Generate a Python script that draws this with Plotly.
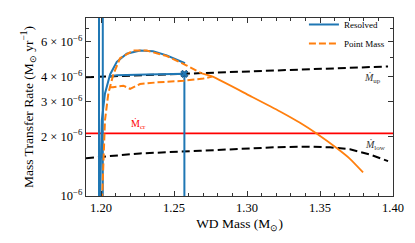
import plotly.graph_objects as go
import math

# ---------------- data ----------------
# Resolved model (blue): several track segments, separated by None
res_spike1_x = [1.1986, 1.1986]
res_spike1_y = [0.9e-6, 1.2e-5]
res_spike2_x = [1.2012, 1.2012]
res_spike2_y = [1.2e-5, 0.9e-6]
res_up_x = [1.1993, 1.2005, 1.2027, 1.2062, 1.2108, 1.2176, 1.2267, 1.2356, 1.2450, 1.2575]
res_up_y = [0.95e-6, 2.40e-6, 3.29e-6, 4.10e-6, 4.75e-6, 5.22e-6, 5.41e-6, 5.37e-6, 5.12e-6, 4.67e-6]
res_low_x = [1.2062, 1.2108, 1.2313, 1.2571, 1.2571]
res_low_y = [4.02e-6, 4.06e-6, 4.10e-6, 4.13e-6, 0.9e-6]
res_end_x = [1.2571]
res_end_y = [4.13e-6]

# Point-mass model (orange dashed)
pm_up_x = [1.2007, 1.2027, 1.2050, 1.2084, 1.2130, 1.2219, 1.2313, 1.2450, 1.2587, 1.2690]
pm_up_y = [0.95e-6, 2.41e-6, 3.29e-6, 4.10e-6, 4.95e-6, 5.41e-6, 5.41e-6, 5.08e-6, 4.55e-6, 4.15e-6]
pm_low_x = [1.2058, 1.2082, 1.2153, 1.2199, 1.2267, 1.2382, 1.2564, 1.2701, 1.2760]
pm_low_y = [3.54e-6, 3.54e-6, 3.60e-6, 3.47e-6, 3.67e-6, 3.74e-6, 3.81e-6, 3.91e-6, 4.00e-6]
# Point-mass continuation (orange solid)
pm_cont_x = [1.2690, 1.2760, 1.3021, 1.3226, 1.3363, 1.3479, 1.3616, 1.3705, 1.3795]
pm_cont_y = [4.15e-6, 4.01e-6, 3.20e-6, 2.67e-6, 2.34e-6, 2.06e-6, 1.74e-6, 1.54e-6, 1.315e-6]

# Stability boundaries
mup_x = [1.1897, 1.2678, 1.3360, 1.3966]
mup_y = [3.97e-6, 4.15e-6, 4.31e-6, 4.50e-6]
mlow_x = [1.1897, 1.2267, 1.2678, 1.2952, 1.3190, 1.3410, 1.3570, 1.3705, 1.3840, 1.3966]
mlow_y = [1.55e-6, 1.64e-6, 1.69e-6, 1.735e-6, 1.76e-6, 1.774e-6, 1.76e-6, 1.72e-6, 1.62e-6, 1.50e-6]
mcr_x = [1.1897, 1.40]
mcr_y = [2.07e-6, 2.07e-6]

# axes
x_range = [1.1897, 1.40]
y_range = [1e-6, 7.9e-6]
x_tickvals = [1.20, 1.25, 1.30, 1.35, 1.40]
x_ticktext = ["1.20", "1.25", "1.30", "1.35", "1.40"]
y_tickvals = [1e-6, 2e-6, 3e-6, 4e-6, 6e-6]
y_ticktext = ["10<sup>−6</sup>", "2 × 10<sup>−6</sup>", "3 × 10<sup>−6</sup>",
              "4 × 10<sup>−6</sup>", "6 × 10<sup>−6</sup>"]
y_minor = [5e-6, 7e-6]
x_minor = [1.19, 1.21, 1.22, 1.23, 1.24, 1.26, 1.27, 1.28, 1.29, 1.31, 1.32, 1.33, 1.34,
           1.36, 1.37, 1.38, 1.39]

BLUE = "#1f77b4"
ORANGE = "#ff7f0e"
FONT = "Liberation Serif"


def join(*segs):
    xs, ys = [], []
    for i, (sx, sy) in enumerate(segs):
        if i:
            xs.append(None)
            ys.append(None)
        xs += list(sx)
        ys += list(sy)
    return xs, ys


fig = go.Figure()

# boundaries
fig.add_trace(go.Scatter(x=mup_x, y=mup_y, mode="lines", showlegend=False,
                         line=dict(color="black", width=2, dash="8px,4px")))
fig.add_trace(go.Scatter(x=mlow_x, y=mlow_y, mode="lines", showlegend=False,
                         line=dict(color="black", width=2, dash="8px,4px")))
fig.add_trace(go.Scatter(x=mcr_x, y=mcr_y, mode="lines", showlegend=False,
                         line=dict(color="#ff0000", width=1.6)))

# point mass continuation (solid)
fig.add_trace(go.Scatter(x=pm_cont_x, y=pm_cont_y, mode="lines", showlegend=False,
                         line=dict(color=ORANGE, width=1.8, shape="spline", smoothing=0.6)))

# resolved
rx, ry = join((res_spike1_x, res_spike1_y), (res_spike2_x, res_spike2_y),
              (res_up_x, res_up_y), (res_low_x, res_low_y))
fig.add_trace(go.Scatter(x=rx, y=ry, mode="lines", name="Resolved",
                         line=dict(color=BLUE, width=2)))

# point mass dashed
px_, py_ = join((pm_up_x, pm_up_y), (pm_low_x, pm_low_y))
fig.add_trace(go.Scatter(x=px_, y=py_, mode="lines", name="Point Mass",
                         line=dict(color=ORANGE, width=2, dash="7px,3px")))

# end marker
fig.add_trace(go.Scatter(x=res_end_x, y=res_end_y, mode="markers", showlegend=False,
                         marker=dict(symbol="x", size=6.5, color=BLUE,
                                     line=dict(color="#154a75", width=0.8))))

# labels
fig.add_annotation(x=1.226, y=math.log10(2.30e-6), text="Ṁ<sub>cr</sub>", showarrow=False,
                   font=dict(family=FONT, size=10, color="#ff0000"))
fig.add_annotation(x=1.386, y=math.log10(3.90e-6), text="<i>Ṁ</i><sub>up</sub>", showarrow=False,
                   font=dict(family=FONT, size=10, color="#333333"))
fig.add_annotation(x=1.3877, y=math.log10(1.80e-6), text="<i>Ṁ</i><sub>low</sub>", showarrow=False,
                   font=dict(family=FONT, size=10, color="#333333"))

axis_common = dict(showline=True, linecolor="#333333", linewidth=1.3, mirror="allticks",
                   ticks="inside", ticklen=5, tickwidth=1, tickcolor="#333333",
                   showgrid=False, zeroline=False, automargin=False,
                   tickfont=dict(family=FONT, size=12.5, color="black"))

fig.update_xaxes(range=x_range, tickmode="array", tickvals=x_tickvals, ticktext=x_ticktext,
                 minor=dict(tickmode="array", tickvals=x_minor, ticks="inside", ticklen=3,
                            tickcolor="#333333", showgrid=False),
                 title=dict(text="WD Mass (M<sub>⊙</sub>)", font=dict(family=FONT, size=13.5, color="black"),
                            standoff=4),
                 **axis_common)
fig.update_yaxes(type="log", range=[math.log10(v) for v in y_range], tickmode="array",
                 tickvals=y_tickvals, ticktext=y_ticktext,
                 minor=dict(tickmode="array", tickvals=y_minor, ticks="inside", ticklen=3,
                            tickcolor="#333333", showgrid=False),
                 title=dict(text="Mass Transfer Rate (M<sub>⊙</sub> yr<sup>−1</sup>)",
                            font=dict(family=FONT, size=13.5, color="black"), standoff=4),
                 **axis_common)

# the page body has an 8px default margin, so the figure is shrunk by it
fig.update_layout(width=407, height=235, margin=dict(l=78, r=22, t=2, b=47),
                  paper_bgcolor="white", plot_bgcolor="white",
                  font=dict(family=FONT, color="black"),
                  legend=dict(x=0.99, y=1.045, xanchor="right", yanchor="top",
                              bgcolor="rgba(0,0,0,0)", font=dict(family=FONT, size=9),
                              tracegroupgap=0))

fig.write_html("out.html")
